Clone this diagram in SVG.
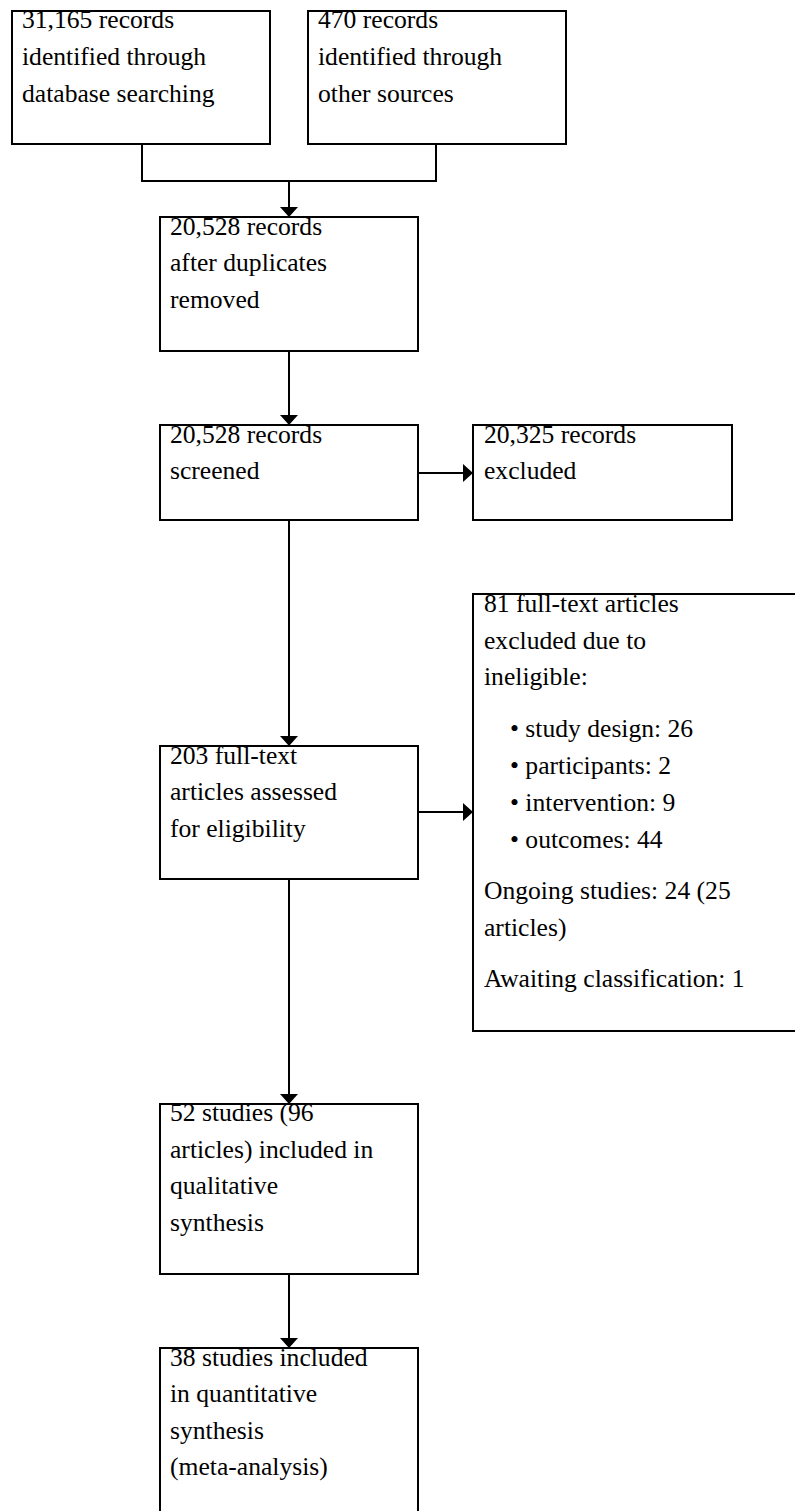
<svg xmlns="http://www.w3.org/2000/svg" width="795" height="1511" viewBox="0 0 795 1511">
<style>
text{font-family:"Liberation Serif",Tinos,"Times New Roman",Times,"Nimbus Roman","Noto Serif","DejaVu Serif",serif;font-size:25.6px;fill:#000}
.box{fill:none;stroke:#000;stroke-width:2}
.conn{fill:none;stroke:#000;stroke-width:2}
</style>
<defs>
<marker id="arr" markerUnits="userSpaceOnUse" markerWidth="10" markerHeight="18" refX="10" refY="9" orient="auto">
<path d="M0,0 L10,9 L0,18 Z" fill="#000"/>
</marker>
</defs>
<rect width="795" height="1511" fill="#fff"/>
<g id="connectors">
<path class="conn" d="M142,144 V181 H436 V144"/>
<path class="conn" d="M289,181 V217" marker-end="url(#arr)"/>
<path class="conn" d="M289,351 V425" marker-end="url(#arr)"/>
<path class="conn" d="M418,473 H473" marker-end="url(#arr)"/>
<path class="conn" d="M289,520 V746" marker-end="url(#arr)"/>
<path class="conn" d="M418,812 H473" marker-end="url(#arr)"/>
<path class="conn" d="M289,879 V1104" marker-end="url(#arr)"/>
<path class="conn" d="M289,1274 V1348" marker-end="url(#arr)"/>
</g>
<g id="node-db">
<text x="22" y="28.3">31,165 records</text>
<text x="22" y="65">identified through</text>
<text x="22" y="101.5">database searching</text>
<rect class="box" x="12" y="11" width="258" height="133"/>
</g>
<g id="node-other">
<text x="318" y="28.3">470 records</text>
<text x="318" y="65">identified through</text>
<text x="318" y="101.5">other sources</text>
<rect class="box" x="308" y="11" width="258" height="133"/>
</g>
<g id="node-dedup">
<text x="170" y="234.5">20,528 records</text>
<text x="170" y="271.2">after duplicates</text>
<text x="170" y="307.8">removed</text>
<rect class="box" x="160" y="217" width="258" height="134"/>
</g>
<g id="node-screened">
<text x="170" y="442.5">20,528 records</text>
<text x="170" y="479.1">screened</text>
<rect class="box" x="160" y="425" width="258" height="95"/>
</g>
<g id="node-excluded">
<text x="484" y="442.5">20,325 records</text>
<text x="484" y="479.1">excluded</text>
<rect class="box" x="473" y="425" width="259" height="95"/>
</g>
<g id="node-fulltext">
<text x="170" y="763.5">203 full-text</text>
<text x="170" y="800.1">articles assessed</text>
<text x="170" y="836.7">for eligibility</text>
<rect class="box" x="160" y="746" width="258" height="133"/>
</g>
<g id="node-ftexcluded">
<text x="484" y="612">81 full-text articles</text>
<text x="484" y="648.6">excluded due to</text>
<text x="484" y="685.2">ineligible:</text>
<text x="510" y="737">• study design: 26</text>
<text x="510" y="774">• participants: 2</text>
<text x="510" y="811">• intervention: 9</text>
<text x="510" y="848">• outcomes: 44</text>
<text x="484" y="899">Ongoing studies: 24 (25</text>
<text x="484" y="936">articles)</text>
<text x="484" y="987">Awaiting classification: 1</text>
<rect class="box" x="473" y="594" width="340" height="437"/>
</g>
<g id="node-qualitative">
<text x="170" y="1121">52 studies (96</text>
<text x="170" y="1157.6">articles) included in</text>
<text x="170" y="1194.2">qualitative</text>
<text x="170" y="1230.8">synthesis</text>
<rect class="box" x="160" y="1104" width="258" height="170"/>
</g>
<g id="node-quantitative">
<text x="170" y="1365.5">38 studies included</text>
<text x="170" y="1402.1">in quantitative</text>
<text x="170" y="1438.7">synthesis</text>
<text x="170" y="1475.3">(meta-analysis)</text>
<rect class="box" x="160" y="1348" width="258" height="180"/>
</g>
</svg>
